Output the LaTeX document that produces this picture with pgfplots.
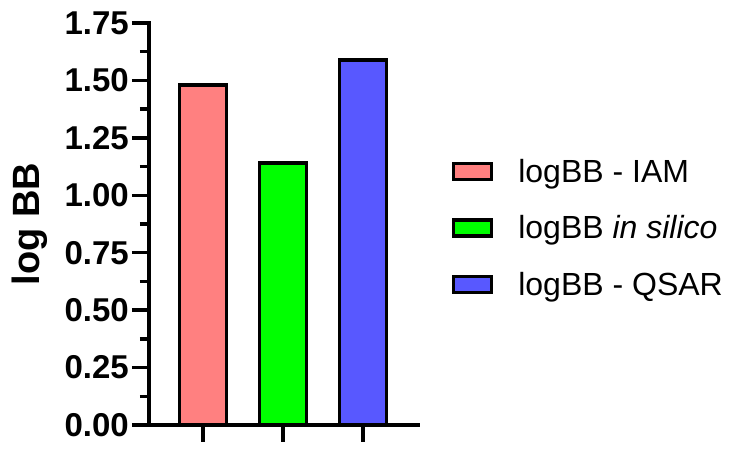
\documentclass[border=0pt]{standalone}
\usepackage{pgfplots}
\pgfplotsset{compat=1.18}
\usepackage{fontspec}
\setmainfont{Liberation Sans}
\definecolor{cIAM}{HTML}{FF8080}
\definecolor{cSil}{HTML}{00FF00}
\definecolor{cQSAR}{HTML}{5858FF}
\begin{document}
\begin{tikzpicture}
\useasboundingbox (0,0) rectangle (740pt,455pt);
\begin{axis}[
  at={(149pt,30pt)}, anchor=south west,
  scale only axis, width=269pt, height=402pt,
  xmin=-0.675, xmax=2.6875, ymin=0, ymax=1.75,
  axis lines=left,
  axis line style={-, line width=4pt, line cap=rect},
  xtick={0,1,2}, xticklabels={},
  ytick={0,0.25,...,1.75},
  minor y tick num=1,
  tick align=outside,
  major tick length=17pt, minor tick length=9pt,
  every tick/.style={black, line width=3.5pt},
  yticklabel style={font=\bfseries\fontsize{33}{40}\selectfont, inner xsep=3pt},
  /pgf/number format/.cd, fixed, fixed zerofill, precision=2, assume math mode=true,
  /pgfplots/.cd,
  ylabel={log BB},
  ylabel style={font=\bfseries\fontsize{38}{44}\selectfont, at={(axis description cs:-0.442,0.5)}, anchor=center},
  every axis plot/.append style={ybar, bar width=47pt, bar shift=0pt, draw=black, line width=3.5pt,
    legend image code/.code={\draw[##1, line width=3.5pt] (0pt,-8pt) rectangle (38pt,8pt);}},
  legend style={draw=none, fill=none, at={(axis description cs:1.125,0.49)}, anchor=west,
    font=\fontsize{32}{38}\selectfont, row sep=32pt, inner sep=0pt,
    nodes={inner sep=0pt},
    /tikz/every odd column/.append style={column sep=25pt}},
  legend cell align=left,
  clip=false,
]
\addplot[fill=cIAM] coordinates {(0,1.48)};
\addlegendentry{logBB - IAM}
\addplot[fill=cSil] coordinates {(1,1.14)};
\addlegendentry{logBB \textit{in silico}}
\addplot[fill=cQSAR] coordinates {(2,1.59)};
\addlegendentry{logBB - QSAR}
\end{axis}
\end{tikzpicture}
\end{document}
